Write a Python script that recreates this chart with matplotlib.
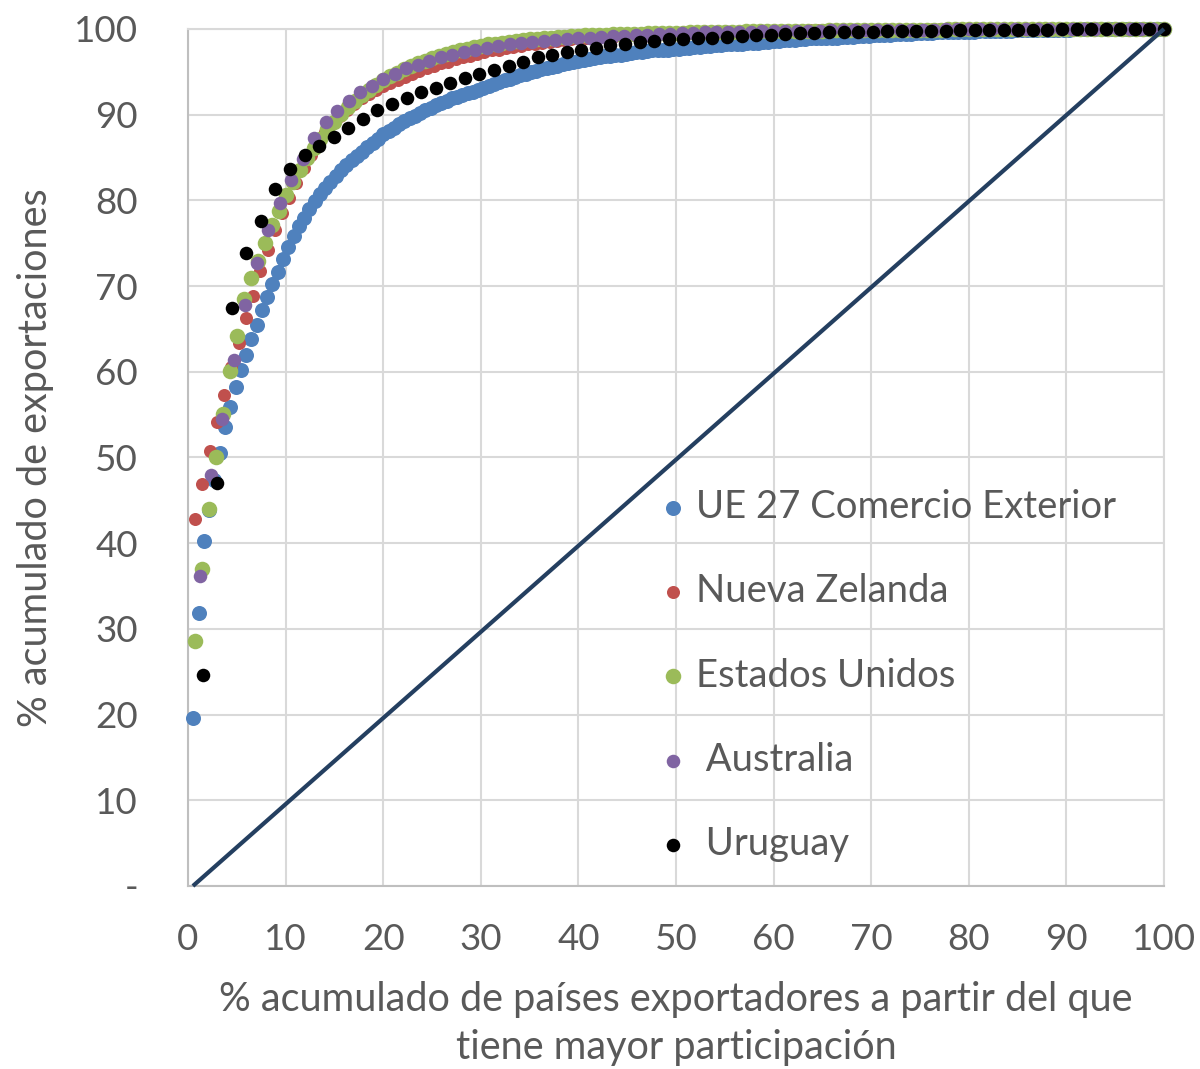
import numpy as np
import matplotlib
matplotlib.use('Agg')
import matplotlib.pyplot as plt

# cumulative % of exports, countries ranked by share
ue27 = [19.6, 31.8, 40.3, 43.9, 47.4, 50.5, 53.6, 55.9, 58.2, 60.2,
        62.0, 63.8, 65.5, 67.2, 68.7, 70.2, 71.7, 73.2, 74.6, 75.8,
        77.0, 78.0, 79.0, 79.9, 80.7, 81.5, 82.2, 82.9, 83.5, 84.1,
        84.7, 85.2, 85.7, 86.2, 86.7, 87.2, 87.7, 88.1, 88.5, 88.9,
        89.3, 89.6, 89.9, 90.2, 90.5, 90.8, 91.1, 91.4, 91.6, 91.9,
        92.1, 92.3, 92.5, 92.7, 92.9, 93.1, 93.4, 93.6, 93.8, 94.0,
        94.2, 94.4, 94.6, 94.8, 95.0, 95.1, 95.3, 95.4, 95.6, 95.7,
        95.9, 96.0, 96.2, 96.3, 96.4, 96.5, 96.6, 96.7, 96.8, 96.9,
        97.0, 97.0, 97.1, 97.2, 97.3, 97.3, 97.4, 97.5, 97.5, 97.6,
        97.6, 97.7, 97.7, 97.8, 97.8, 97.9, 97.9, 98.0, 98.0, 98.1,
        98.1, 98.2, 98.2, 98.3, 98.3, 98.4, 98.4, 98.4, 98.5, 98.5,
        98.6, 98.6, 98.7, 98.7, 98.7, 98.8, 98.8, 98.9, 98.9, 98.9,
        99.0, 99.0, 99.0, 99.1, 99.1, 99.1, 99.2, 99.2, 99.2, 99.3,
        99.3, 99.3, 99.35, 99.4, 99.4, 99.4, 99.45, 99.5, 99.5, 99.5,
        99.55, 99.6, 99.6, 99.6, 99.65, 99.65, 99.7, 99.7, 99.7, 99.75,
        99.75, 99.75, 99.8, 99.8, 99.8, 99.82, 99.84, 99.85, 99.86, 99.87,
        99.88, 99.89, 99.9, 99.91, 99.92, 99.93, 99.93, 99.94, 99.95, 99.95,
        99.96, 99.96, 99.97, 99.97, 99.98, 99.98, 99.98, 99.99, 99.99, 99.99,
        100.0, 100.0, 100.0, 100.0, 100.0]

nueva_zelanda = [42.8, 46.9, 50.7, 54.1, 57.3, 60.5, 63.4, 66.3, 68.8, 71.8,
                 74.2, 76.5, 78.5, 80.3, 82.0, 83.8, 85.3, 86.8, 88.0, 89.0,
                 89.9, 90.6, 91.3, 91.9, 92.4, 92.9, 93.3, 93.7, 94.1, 94.4,
                 94.8, 95.1, 95.4, 95.7, 96.0, 96.2, 96.5, 96.7, 96.9, 97.1,
                 97.3, 97.5, 97.6, 97.8, 97.9, 98.0, 98.2, 98.3, 98.4, 98.5,
                 98.6, 98.7, 98.8, 98.9, 98.95, 99.0, 99.1, 99.15, 99.2, 99.25,
                 99.3, 99.35, 99.4, 99.42, 99.45, 99.48, 99.5, 99.53, 99.55, 99.58,
                 99.6, 99.62, 99.64, 99.66, 99.68, 99.7, 99.72, 99.73, 99.75, 99.76,
                 99.78, 99.79, 99.8, 99.81, 99.82, 99.83, 99.84, 99.85, 99.86, 99.86,
                 99.87, 99.88, 99.88, 99.89, 99.9, 99.9, 99.91, 99.91, 99.92, 99.92,
                 99.93, 99.93, 99.94, 99.94, 99.95, 99.95, 99.95, 99.96, 99.96, 99.96,
                 99.97, 99.97, 99.97, 99.97, 99.98, 99.98, 99.98, 99.98, 99.99, 99.99,
                 99.99, 99.99, 99.99, 99.99, 100, 100, 100, 100, 100, 100,
                 100, 100, 100, 100, 100]

estados_unidos = [28.6, 37.0, 44.0, 50.1, 55.1, 60.1, 64.2, 68.5, 71.0, 72.9,
                  75.0, 77.1, 78.8, 80.6, 82.2, 83.6, 84.9, 86.1, 87.2, 88.3,
                  89.2, 90.1, 90.9, 91.6, 92.3, 92.9, 93.5, 94.0, 94.5, 94.9,
                  95.3, 95.7, 96.0, 96.3, 96.6, 96.9, 97.1, 97.3, 97.5, 97.7,
                  97.9, 98.0, 98.2, 98.3, 98.4, 98.5, 98.6, 98.7, 98.8, 98.85,
                  98.9, 99.0, 99.05, 99.1, 99.15, 99.2, 99.25, 99.28, 99.31, 99.34,
                  99.37, 99.4, 99.42, 99.44, 99.46, 99.48, 99.5, 99.52, 99.54, 99.56,
                  99.58, 99.6, 99.62, 99.63, 99.64, 99.66, 99.67, 99.68, 99.7, 99.71,
                  99.72, 99.73, 99.74, 99.75, 99.76, 99.77, 99.78, 99.79, 99.8, 99.81,
                  99.82, 99.83, 99.84, 99.85, 99.86, 99.86, 99.87, 99.88, 99.88, 99.89,
                  99.9, 99.9, 99.91, 99.91, 99.92, 99.92, 99.93, 99.93, 99.94, 99.94,
                  99.95, 99.95, 99.95, 99.96, 99.96, 99.96, 99.97, 99.97, 99.97, 99.97,
                  99.98, 99.98, 99.98, 99.98, 99.98, 99.99, 99.99, 99.99, 99.99, 99.99,
                  99.99, 100, 100, 100, 100, 100, 100, 100, 100, 100]

australia = [36.2, 48.0, 54.5, 61.4, 67.8, 72.7, 76.5, 79.7, 82.4, 84.8,
             87.3, 89.2, 90.4, 91.6, 92.6, 93.4, 94.2, 94.8, 95.4, 95.8,
             96.3, 96.7, 97.0, 97.3, 97.6, 97.8, 98.0, 98.2, 98.35, 98.5,
             98.6, 98.7, 98.8, 98.9, 99.0, 99.1, 99.15, 99.2, 99.3, 99.35,
             99.4, 99.45, 99.5, 99.55, 99.6, 99.62, 99.65, 99.68, 99.7, 99.72,
             99.74, 99.76, 99.78, 99.8, 99.82, 99.84, 99.85, 99.86, 99.87, 99.88,
             99.89, 99.9, 99.91, 99.92, 99.93, 99.94, 99.95, 99.95, 99.96, 99.96,
             99.97, 99.97, 99.98, 99.98, 99.98, 99.99, 99.99, 99.99, 99.99, 100,
             100, 100, 100, 100, 100]

uruguay = [24.6, 47.0, 67.4, 73.9, 77.6, 81.3, 83.7, 85.3, 86.3, 87.4,
           88.4, 89.5, 90.5, 91.2, 91.9, 92.6, 93.1, 93.7, 94.3, 94.7,
           95.2, 95.7, 96.2, 96.7, 97.0, 97.3, 97.6, 97.8, 98.1, 98.3,
           98.5, 98.6, 98.8, 98.8, 99.0, 99.0, 99.1, 99.2, 99.3, 99.35,
           99.4, 99.5, 99.5, 99.6, 99.62, 99.65, 99.7, 99.72, 99.75, 99.78,
           99.8, 99.82, 99.84, 99.86, 99.88, 99.9, 99.91, 99.92, 99.93, 99.94,
           99.95, 99.96, 99.97, 99.98, 99.99, 100.0, 100.0]

series_names = ['UE 27 Comercio Exterior', 'Nueva Zelanda', 'Estados Unidos',
                ' Australia', ' Uruguay']
series_values = [ue27, nueva_zelanda, estados_unidos, australia, uruguay]
series_colors = ['#4F81BD', '#C0504D', '#9BBB59', '#8064A2', '#000000']
series_sizes = [117, 88, 125, 95, 95]

# line of perfect equality
igualdad_x = [0.5, 100]
igualdad_y = [0, 100]

x_ticks = [0, 10, 20, 30, 40, 50, 60, 70, 80, 90, 100]
y_ticks = [0, 10, 20, 30, 40, 50, 60, 70, 80, 90, 100]
y_tick_labels = ['-', '10', '20', '30', '40', '50', '60', '70', '80', '90', '100']

plt.rcParams['font.family'] = ['Lato', 'DejaVu Sans']
txt = '#595959'

fig = plt.figure(figsize=(12, 10.69), dpi=100)
ax = fig.add_axes([0.1567, 0.1712, 0.8133, 0.8017])

for name, vals, col, sz in zip(series_names, series_values, series_colors, series_sizes):
    n = len(vals)
    xs = 100.0 * np.arange(1, n + 1) / n  # % of countries, by rank
    ax.scatter(xs, vals, s=sz, color=col, linewidths=0, label=name,
               clip_on=False, zorder=3)

ax.plot(igualdad_x, igualdad_y, color='#243F60', lw=3, zorder=4,
        solid_capstyle='butt', clip_on=False)

ax.set_xlim(0, 100)
ax.set_ylim(0, 100)
ax.set_xticks(x_ticks)
ax.set_yticks(y_ticks)
ax.set_yticklabels(y_tick_labels)
ax.grid(True, color='#D9D9D9', lw=1.5)
ax.set_axisbelow(True)
for s in ax.spines.values():
    s.set_color('#D9D9D9')
    s.set_linewidth(1.5)
ax.spines['bottom'].set_color('#BFBFBF')
ax.spines['left'].set_color('#BFBFBF')
ax.tick_params(axis='both', length=0, labelsize=26.5, colors=txt)
ax.tick_params(axis='y', pad=36)
ax.tick_params(axis='x', pad=27)

ax.set_xlabel('% acumulado de países exportadores a partir del que\ntiene mayor participación',
              fontsize=28.5, color=txt, labelpad=18, linespacing=1.35)
ax.set_ylabel('% acumulado de exportaciones', fontsize=28.5, color=txt, labelpad=14)

ax.legend(loc='center left', bbox_to_anchor=(0.489, 0.2456), frameon=False,
          fontsize=27.5, labelcolor=txt, handlelength=0.4, handletextpad=0.4,
          labelspacing=1.26, borderpad=0, borderaxespad=0, scatterpoints=1)

fig.savefig('out.png', dpi=100)
